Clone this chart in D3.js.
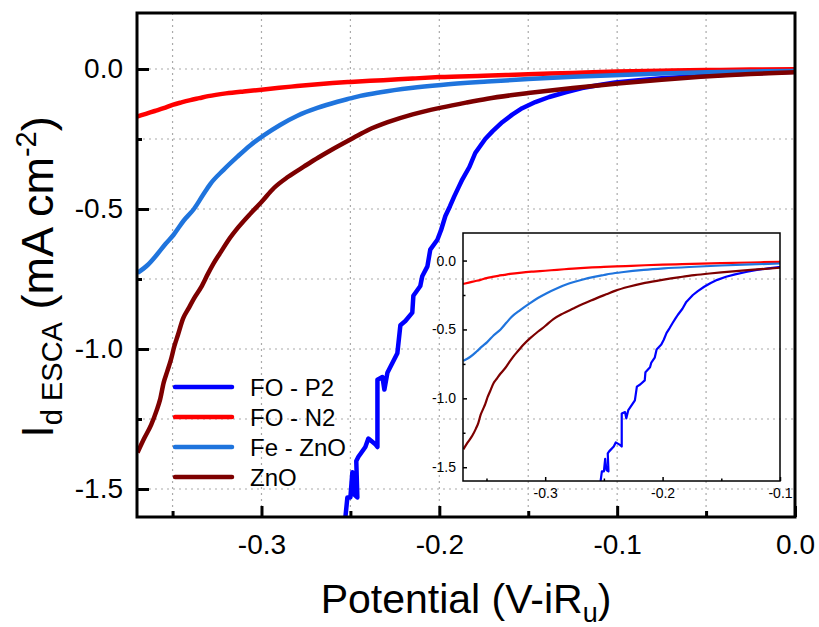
<!DOCTYPE html>
<html>
<head>
<meta charset="utf-8">
<script src="https://cdn.jsdelivr.net/npm/d3@7"></script>
<style>
  body { margin: 0; background: #fff; }
  svg { font-family: "Liberation Sans", Arial, sans-serif; }
</style>
</head>
<body>
<div class="figure"></div>
<script>
// series: [potential (V-iRu), current (mA cm-2)]
const foP2 = [[-0.2540,-1.66],[-0.2528,-1.60],[-0.2517,-1.53],[-0.2500,-1.53],[-0.2489,-1.44],[-0.2478,-1.52],
    [-0.2461,-1.53],[-0.2467,-1.40],[-0.2455,-1.385],[-0.2416,-1.35],[-0.2399,-1.32],[-0.2360,-1.34],
    [-0.2348,-1.35],[-0.2348,-1.11],[-0.2320,-1.10],[-0.2309,-1.145],[-0.2292,-1.085],[-0.2236,-1.015],
    [-0.2219,-0.915],[-0.2191,-0.90],[-0.2152,-0.87],[-0.2146,-0.81],[-0.2107,-0.775],[-0.2096,-0.74],
    [-0.2067,-0.705],[-0.2051,-0.645],[-0.2011,-0.61],[-0.1990,-0.575],[-0.1966,-0.525],[-0.1940,-0.49],
    [-0.1916,-0.455],[-0.1890,-0.42],[-0.1871,-0.395],[-0.1831,-0.35],[-0.1798,-0.30],[-0.1770,-0.275],
    [-0.1742,-0.25],[-0.1700,-0.222],[-0.1646,-0.19],[-0.1590,-0.163],[-0.1534,-0.14],[-0.1460,-0.118],
    [-0.1382,-0.10],[-0.1290,-0.083],[-0.1197,-0.068],[-0.1100,-0.057],[-0.1011,-0.048],[-0.088,-0.040],
    [-0.075,-0.033],[-0.050,-0.024],[-0.025,-0.016],[0,-0.010]];

const foN2 = [[-0.370,-0.170],[-0.365,-0.160],[-0.360,-0.150],[-0.355,-0.140],[-0.350,-0.128],[-0.345,-0.119],
    [-0.340,-0.111],[-0.335,-0.104],[-0.330,-0.097],[-0.320,-0.087],[-0.310,-0.080],[-0.300,-0.074],
    [-0.290,-0.067],[-0.280,-0.061],[-0.270,-0.055],[-0.260,-0.050],[-0.250,-0.046],[-0.2315,-0.040],
    [-0.215,-0.034],[-0.200,-0.029],[-0.175,-0.024],[-0.150,-0.019],[-0.125,-0.014],[-0.100,-0.009],
    [-0.075,-0.006],[-0.050,-0.004],[-0.025,-0.002],[0,-0.001]];

const feZnO = [[-0.3697,-0.728],[-0.3640,-0.700],[-0.3584,-0.660],[-0.3540,-0.625],[-0.3494,-0.592],
    [-0.3438,-0.542],[-0.338,-0.500],[-0.3331,-0.452],[-0.3287,-0.410],[-0.3213,-0.36],[-0.3135,-0.313],
    [-0.3062,-0.272],[-0.2987,-0.237],[-0.2893,-0.199],[-0.2798,-0.167],[-0.2686,-0.139],[-0.2573,-0.117],
    [-0.25,-0.105],[-0.2444,-0.096],[-0.2331,-0.083],[-0.216,-0.068],[-0.199,-0.057],[-0.173,-0.045],
    [-0.15,-0.036],[-0.1247,-0.028],[-0.098,-0.021],[-0.075,-0.016],[-0.05,-0.012],[-0.025,-0.009],[0,-0.007]];

const znO = [[-0.3697,-1.37],[-0.366,-1.32],[-0.362,-1.27],[-0.359,-1.22],[-0.357,-1.18],[-0.355,-1.12],
    [-0.353,-1.08],[-0.351,-1.04],[-0.349,-0.99],[-0.347,-0.95],[-0.344,-0.89],[-0.341,-0.855],
    [-0.338,-0.82],[-0.334,-0.78],[-0.330,-0.73],[-0.327,-0.695],[-0.323,-0.655],[-0.319,-0.615],
    [-0.313,-0.565],[-0.306,-0.515],[-0.300,-0.475],[-0.293,-0.425],[-0.285,-0.385],[-0.276,-0.348],
    [-0.268,-0.316],[-0.261,-0.29],[-0.248,-0.245],[-0.240,-0.218],[-0.229,-0.19],[-0.215,-0.162],
    [-0.199,-0.138],[-0.185,-0.120],[-0.173,-0.106],[-0.160,-0.094],[-0.150,-0.086],[-0.125,-0.068],
    [-0.098,-0.051],[-0.075,-0.038],[-0.053,-0.028],[-0.025,-0.018],[0,-0.012]];

const seriesNames = ["FO - P2", "FO - N2", "Fe - ZnO", "ZnO"];
const seriesColors = ["#0000ff", "#ff0000", "#1f74dd", "#7d0000"];
const seriesData = [foP2, foN2, feZnO, znO];

const xMajor = [-0.3, -0.2, -0.1, 0.0];
const xMinor = [-0.35, -0.25, -0.15, -0.05];
const yMajor = [0.0, -0.5, -1.0, -1.5];
const yMinor = [-0.25, -0.75, -1.25];
const insetXMajor = [-0.3, -0.2, -0.1];
const insetXMinor = [-0.35, -0.25, -0.15];

const W = 819, H = 627;
const frame = { left: 137, top: 13, right: 795, bottom: 517 };
const inset = { left: 463, top: 233, right: 780, bottom: 481 };

const fmt = (d) => d.toFixed(1);

const svg = d3.select(".figure").append("svg")
    .attr("width", W).attr("height", H);

const xMain = d3.scaleLinear().domain([-0.37, 0]).range([frame.left, frame.right]);
const yMain = d3.scaleLinear().domain([0.2, -1.6]).range([frame.top, frame.bottom]);
const xIn = d3.scaleLinear().domain([-0.37, -0.1]).range([inset.left, inset.right]);
const yIn = d3.scaleLinear().domain([0.2, -1.6]).range([inset.top, inset.bottom]);

const defs = svg.append("defs");
defs.append("clipPath").attr("id", "clipMain").append("rect")
    .attr("x", frame.left).attr("y", frame.top)
    .attr("width", frame.right - frame.left).attr("height", frame.bottom - frame.top);
defs.append("clipPath").attr("id", "clipInset").append("rect")
    .attr("x", inset.left).attr("y", inset.top)
    .attr("width", inset.right - inset.left).attr("height", inset.bottom - inset.top);

// grid (dotted)
const grid = svg.append("g").attr("stroke", "#aaaaaa").attr("stroke-width", 1.2)
    .attr("stroke-dasharray", "2,4");
grid.selectAll(".gx").data(xMajor.concat(xMinor).filter(d => d < 0))
    .enter().append("line")
    .attr("x1", d => xMain(d)).attr("x2", d => xMain(d))
    .attr("y1", frame.top).attr("y2", frame.bottom);
grid.selectAll(".gy").data(yMajor.concat(yMinor))
    .enter().append("line")
    .attr("y1", d => yMain(d)).attr("y2", d => yMain(d))
    .attr("x1", frame.left).attr("x2", frame.right);

// P2 has steps, keep it linear; the others are smooth
const curveFor = (i) => i === 0 ? d3.curveLinear : d3.curveMonotoneX;

// main curves
svg.append("g").attr("clip-path", "url(#clipMain)")
    .selectAll("path").data(seriesData).enter().append("path")
    .attr("d", (d, i) => d3.line().curve(curveFor(i)).x(p => xMain(p[0])).y(p => yMain(p[1]))(d))
    .attr("fill", "none")
    .attr("stroke", (d, i) => seriesColors[i])
    .attr("stroke-width", 4.5)
    .attr("stroke-linejoin", "round");

// main axes
function styleAxis(g, fontSize) {
    g.select(".domain").remove();
    g.selectAll("text").attr("font-size", fontSize)
        .attr("font-family", "'Liberation Sans', Arial, sans-serif").attr("fill", "#000");
}
svg.append("g").attr("transform", `translate(0,${frame.bottom})`)
    .call(d3.axisBottom(xMain).tickValues(xMajor).tickSize(-11).tickPadding(17).tickFormat(fmt))
    .call(g => styleAxis(g, 28))
    .selectAll("line").attr("stroke-width", 3);
svg.append("g").attr("transform", `translate(0,${frame.bottom})`)
    .call(d3.axisBottom(xMain).tickValues(xMinor).tickSize(-6).tickFormat(""))
    .call(g => styleAxis(g, 28))
    .selectAll("line").attr("stroke-width", 3);
svg.append("g").attr("transform", `translate(${frame.left},0)`)
    .call(d3.axisLeft(yMain).tickValues(yMajor).tickSize(-12).tickPadding(14).tickFormat(fmt))
    .call(g => styleAxis(g, 28))
    .selectAll("line").attr("stroke-width", 3);
svg.append("g").attr("transform", `translate(${frame.left},0)`)
    .call(d3.axisLeft(yMain).tickValues(yMinor).tickSize(-5).tickFormat(""))
    .call(g => styleAxis(g, 28))
    .selectAll("line").attr("stroke-width", 3);

svg.append("rect")
    .attr("x", frame.left).attr("y", frame.top)
    .attr("width", frame.right - frame.left).attr("height", frame.bottom - frame.top)
    .attr("fill", "none").attr("stroke", "#000").attr("stroke-width", 3);

// axis titles
const xt = svg.append("text")
    .attr("x", 466).attr("y", 613)
    .attr("text-anchor", "middle")
    .attr("font-size", 41);
xt.append("tspan").text("Potential (V-iR");
xt.append("tspan").text("u").attr("font-size", 27).attr("dy", 9);
xt.append("tspan").text(")").attr("dy", -9);

const yt = svg.append("text")
    .attr("transform", "translate(53,277) rotate(-90)")
    .attr("text-anchor", "middle")
    .attr("font-size", 45);
yt.append("tspan").text("I");
yt.append("tspan").text("d ESCA").attr("font-size", 29).attr("dy", 9);
yt.append("tspan").text(" (mA cm").attr("dy", -9);
yt.append("tspan").text("-2").attr("font-size", 29).attr("dy", -17);
yt.append("tspan").text(")").attr("dy", 17);

// legend
const legend = svg.append("g").attr("id", "legend");
const legY = d3.scalePoint().domain(seriesNames).range([387, 477]);
legend.selectAll("line").data(seriesNames).enter().append("line")
    .attr("x1", 175).attr("x2", 232)
    .attr("y1", d => legY(d)).attr("y2", d => legY(d))
    .attr("stroke", (d, i) => seriesColors[i])
    .attr("stroke-width", 4.5).attr("stroke-linecap", "round");
legend.selectAll("text").data(seriesNames).enter().append("text")
    .attr("x", 250).attr("y", d => legY(d) + 9)
    .attr("font-size", 24)
    .text(d => d);

// inset
svg.append("g").attr("clip-path", "url(#clipInset)")
    .selectAll("path").data(seriesData).enter().append("path")
    .attr("d", (d, i) => d3.line().curve(curveFor(i)).x(p => xIn(p[0])).y(p => yIn(p[1]))(d))
    .attr("fill", "none")
    .attr("stroke", (d, i) => seriesColors[i])
    .attr("stroke-width", 2.2)
    .attr("stroke-linejoin", "round");

svg.append("g").attr("transform", `translate(0,${inset.bottom})`)
    .call(d3.axisBottom(xIn).tickValues(insetXMajor).tickSize(-4).tickPadding(7).tickFormat(fmt))
    .call(g => styleAxis(g, 14))
    .selectAll("line").attr("stroke-width", 1.5);
svg.append("g").attr("transform", `translate(0,${inset.bottom})`)
    .call(d3.axisBottom(xIn).tickValues(insetXMinor).tickSize(-2.5).tickFormat(""))
    .call(g => styleAxis(g, 14))
    .selectAll("line").attr("stroke-width", 1.5);
svg.append("g").attr("transform", `translate(${inset.left},0)`)
    .call(d3.axisLeft(yIn).tickValues(yMajor).tickSize(-4).tickPadding(7).tickFormat(fmt))
    .call(g => styleAxis(g, 14))
    .selectAll("line").attr("stroke-width", 1.5);
svg.append("g").attr("transform", `translate(${inset.left},0)`)
    .call(d3.axisLeft(yIn).tickValues(yMinor).tickSize(-2.5).tickFormat(""))
    .call(g => styleAxis(g, 14))
    .selectAll("line").attr("stroke-width", 1.5);

svg.append("rect")
    .attr("x", inset.left).attr("y", inset.top)
    .attr("width", inset.right - inset.left).attr("height", inset.bottom - inset.top)
    .attr("fill", "none").attr("stroke", "#000").attr("stroke-width", 1.5);
</script>
</body>
</html>
